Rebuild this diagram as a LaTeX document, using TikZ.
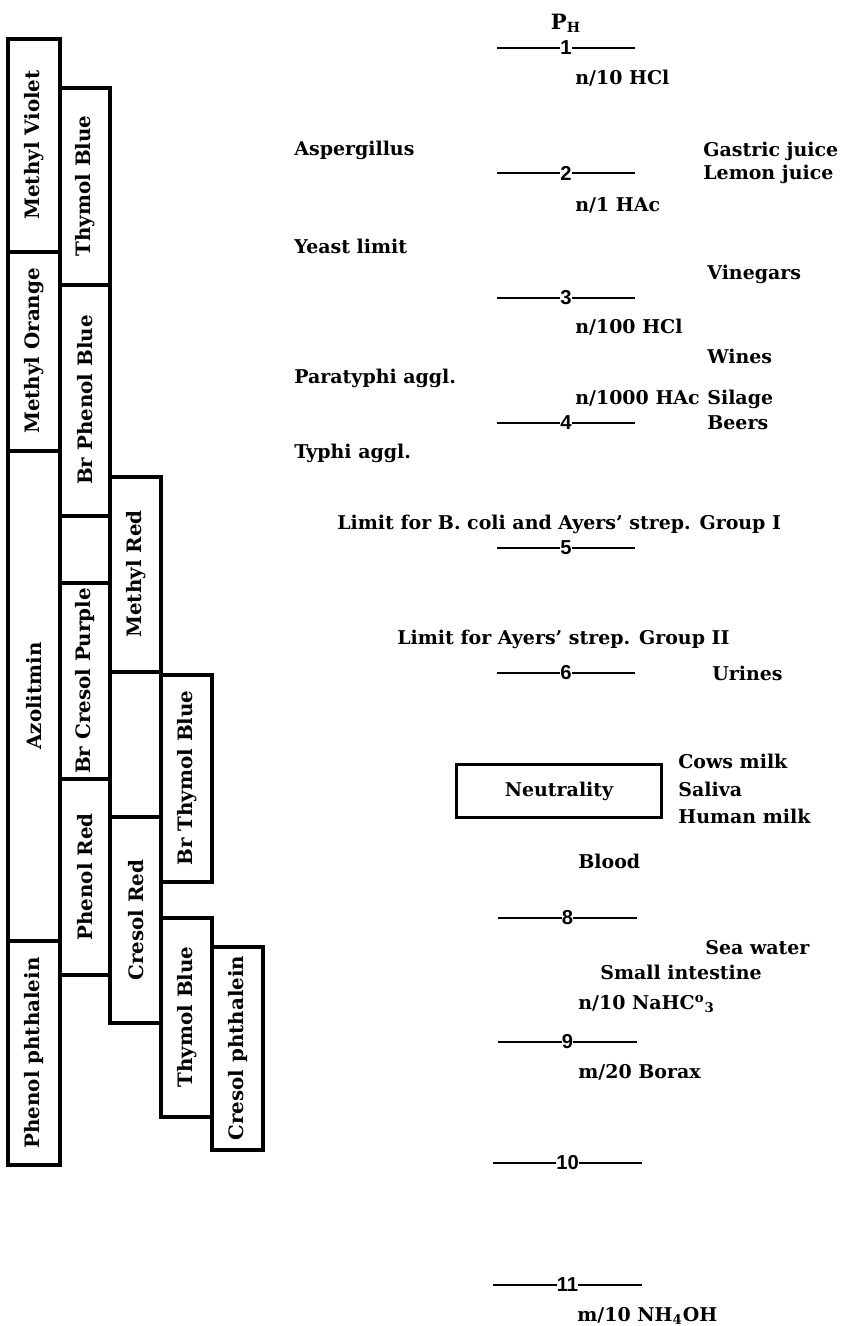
\documentclass[tikz,border=0pt]{standalone}
\usepackage{fontspec}
\setmainfont{DejaVu Serif}
\newfontfamily\numfont{Liberation Sans}

\begin{document}
\begin{tikzpicture}[x=0.02cm,y=-0.02cm,
    colline/.style={line width=1.8pt, line cap=rect},
    scaleline/.style={line width=1.6pt},
    ind/.style={font=\fontsize{11.3}{13}\selectfont\bfseries, rotate=90, inner sep=0pt},
    lbl/.style={font=\fontsize{10.8}{12}\selectfont\bfseries, anchor=base west, inner sep=0pt},
    num/.style={font=\fontsize{11.5}{13}\selectfont\numfont\bfseries, fill=white, inner sep=0pt}]

\useasboundingbox (0,0) rectangle (840,1326);

% indicator columns
\draw[colline] (8,39) -- (8,1165);
\draw[colline] (60,39) -- (60,1165);
\draw[colline] (110,88) -- (110,1023);
\draw[colline] (161,477) -- (161,1117);
\draw[colline] (212,675) -- (212,882);
\draw[colline] (212,918) -- (212,1150);
\draw[colline] (263,947) -- (263,1150);

\draw[colline] (8,39) -- (60,39);
\draw[colline] (8,252) -- (60,252);
\draw[colline] (8,451) -- (60,451);
\draw[colline] (8,941) -- (60,941);
\draw[colline] (8,1165) -- (60,1165);

\draw[colline] (60,88) -- (110,88);
\draw[colline] (60,285) -- (110,285);
\draw[colline] (60,516) -- (110,516);
\draw[colline] (60,583) -- (110,583);
\draw[colline] (60,779) -- (110,779);
\draw[colline] (60,975) -- (110,975);

\draw[colline] (110,477) -- (161,477);
\draw[colline] (110,672) -- (161,672);
\draw[colline] (110,817) -- (161,817);
\draw[colline] (110,1023) -- (161,1023);

\draw[colline] (161,675) -- (212,675);
\draw[colline] (161,882) -- (212,882);
\draw[colline] (161,918) -- (212,918);
\draw[colline] (161,1117) -- (212,1117);

\draw[colline] (212,947) -- (263,947);
\draw[colline] (212,1150) -- (263,1150);

\node[ind] (mviolet) at (34,145) {Methyl Violet};
\node[ind] (morange) at (34,351) {Methyl Orange};
\node[ind] (azol) at (34,696) {Azolitmin};
\node[ind] (pphth) at (34,1053) {Phenol phthalein};
\node[ind] (tblue) at (85,186) {Thymol Blue};
\node[ind] (bpblue) at (85,400) {Br Phenol Blue};
\node[ind] (bcpurple) at (85,681) {Br Cresol Purple};
\node[ind] (pred) at (85,877) {Phenol Red};
\node[ind] (mred) at (136,574) {Methyl Red};
\node[ind] (cred) at (136,920) {Cresol Red};
\node[ind] (btblue) at (187,778) {Br Thymol Blue};
\node[ind] (tbluetwo) at (187,1017) {Thymol Blue};
\node[ind] (cphth) at (238,1048) {Cresol phthalein};

% pH scale
\node[lbl, anchor=base, font=\fontsize{12}{13}\selectfont\bfseries] (ph) at (566,29) {P\textsubscript{H}};

\coordinate (s1a) at (497,48);   \coordinate (s1b) at (635,48);
\coordinate (s2a) at (497,173);  \coordinate (s2b) at (635,173);
\coordinate (s3a) at (497,298);  \coordinate (s3b) at (635,298);
\coordinate (s4a) at (497,423);  \coordinate (s4b) at (635,423);
\coordinate (s5a) at (497,548);  \coordinate (s5b) at (635,548);
\coordinate (s6a) at (497,673);  \coordinate (s6b) at (635,673);
\coordinate (s8a) at (498,918);  \coordinate (s8b) at (637,918);
\coordinate (s9a) at (498,1042); \coordinate (s9b) at (637,1042);
\coordinate (s10a) at (493,1163); \coordinate (s10b) at (642,1163);
\coordinate (s11a) at (493,1285); \coordinate (s11b) at (642,1285);

\draw[scaleline] (s1a) -- (s1b) node[num, midway] (n1) {1};
\draw[scaleline] (s2a) -- (s2b) node[num, midway] (n2) {2};
\draw[scaleline] (s3a) -- (s3b) node[num, midway] (n3) {3};
\draw[scaleline] (s4a) -- (s4b) node[num, midway] (n4) {4};
\draw[scaleline] (s5a) -- (s5b) node[num, midway] (n5) {5};
\draw[scaleline] (s6a) -- (s6b) node[num, midway] (n6) {6};
\draw[scaleline] (s8a) -- (s8b) node[num, midway] (n8) {8};
\draw[scaleline] (s9a) -- (s9b) node[num, midway] (n9) {9};
\draw[scaleline] (s10a) -- (s10b) node[num, midway] (n10) {10};
\draw[scaleline] (s11a) -- (s11b) node[num, midway] (n11) {11};

\node[draw, line width=1.4pt, minimum width=4.1cm, minimum height=1.06cm,
      font=\fontsize{10.8}{12}\selectfont\bfseries] (neutral) at (559,791) {Neutrality};

% left side
\node[lbl] (asperg) at (294,155) {Aspergillus};
\node[lbl] (yeast) at (294,253) {Yeast limit};
\node[lbl] (paraty) at (294,383) {Paratyphi aggl.};
\node[lbl] (typhi) at (294,458) {Typhi aggl.};
\node[lbl] (limone) at (337,529) {Limit for B. coli and Ayers' strep. Group I};
\node[lbl] (limtwo) at (397,644) {Limit for Ayers' strep. Group II};

% under the scale
\node[lbl] (hcla) at (575,84) {n/10 HCl};
\node[lbl] (hac) at (575,211) {n/1 HAc};
\node[lbl] (hclb) at (575,333) {n/100 HCl};
\node[lbl] (hacb) at (575,404) {n/1000 HAc};
\node[lbl] (blood) at (578,868) {Blood};
\node[lbl] (intest) at (600,979) {Small intestine};
\node[lbl] (nahc) at (578,1009) {n/10 NaHC\textsuperscript{o}\textsubscript{3}};
\node[lbl] (borax) at (578,1078) {m/20 Borax};
\node[lbl] (nhoh) at (577,1321) {m/10 NH\textsubscript{4}OH};

% right side
\node[lbl] (gastric) at (703,156) {Gastric juice};
\node[lbl] (lemon) at (703,179) {Lemon juice};
\node[lbl] (vineg) at (707,279) {Vinegars};
\node[lbl] (wines) at (707,363) {Wines};
\node[lbl] (silage) at (707,404) {Silage};
\node[lbl] (beers) at (707,429) {Beers};
\node[lbl] (urines) at (712,680) {Urines};
\node[lbl] (cows) at (678,768) {Cows milk};
\node[lbl] (saliva) at (678,796) {Saliva};
\node[lbl] (human) at (678,823) {Human milk};
\node[lbl] (sea) at (705,954) {Sea water};

\end{tikzpicture}
\end{document}
